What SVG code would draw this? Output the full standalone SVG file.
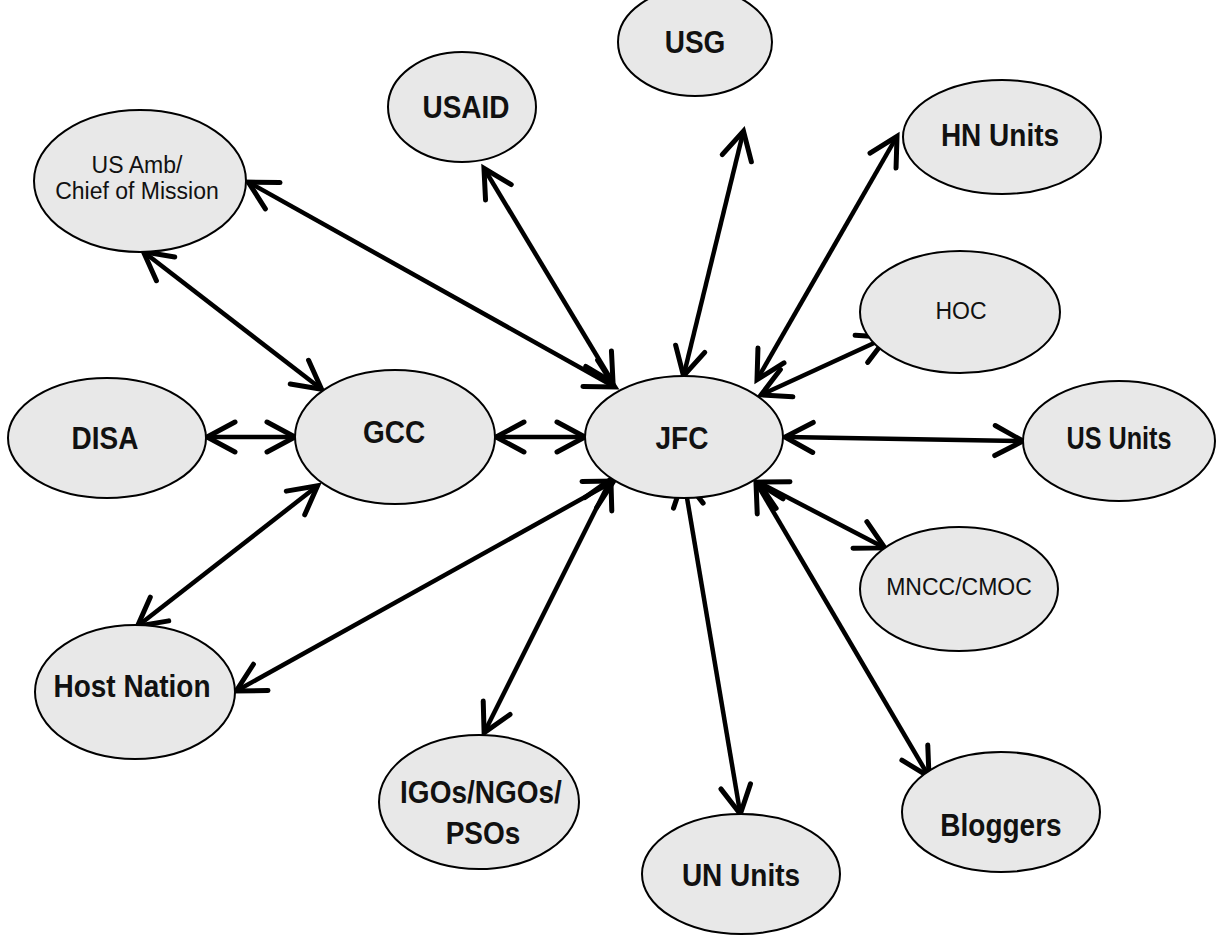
<svg xmlns="http://www.w3.org/2000/svg" width="1219" height="935" viewBox="0 0 1219 935">
<style>
.n ellipse{fill:#e8e8e8;stroke:#000;stroke-width:2}
.n text{font-family:"Liberation Sans",Arial,sans-serif;fill:#111;text-anchor:middle}
.b{font-weight:bold;font-size:28px;transform-box:fill-box;transform-origin:center;transform:scaleY(1.12)}
.r{font-size:23px}
.c line{stroke:#000;stroke-width:4.5;marker-start:url(#ah);marker-end:url(#ah)}
</style>
<defs>
<marker id="ah" markerUnits="userSpaceOnUse" viewBox="-34 -22 40 44" markerWidth="40" markerHeight="44" refX="-2" refY="0" orient="auto-start-reverse">
<path d="M-28,-15 L0,0 L-28,15" fill="none" stroke="#000" stroke-width="5" stroke-linecap="round" stroke-linejoin="miter"/>
</marker>
</defs>
<rect width="1219" height="935" fill="#fff"/>
<g class="c" id="connectors">
<line x1="250" y1="183" x2="613" y2="386"/>
<line x1="145" y1="253" x2="320" y2="388"/>
<line x1="485" y1="170" x2="612" y2="381"/>
<line x1="743" y1="133" x2="684" y2="374"/>
<line x1="896" y1="138" x2="758" y2="378"/>
<line x1="885" y1="338" x2="763" y2="394"/>
<line x1="1021" y1="441" x2="787" y2="437"/>
<line x1="883" y1="547" x2="760" y2="483"/>
<line x1="928" y1="775" x2="757" y2="484"/>
<line x1="740" y1="812" x2="684" y2="480"/>
<line x1="485" y1="731" x2="610" y2="481"/>
<line x1="238" y1="690" x2="612" y2="482"/>
<line x1="139" y1="625" x2="316" y2="487"/>
<line x1="209" y1="437" x2="293" y2="437"/>
<line x1="498" y1="437" x2="583" y2="437"/>
</g>
<g class="n" id="n-usamb"><ellipse cx="140" cy="181" rx="106" ry="71"/><text class="r" x="137" y="173">US Amb/</text><text class="r" x="137" y="199">Chief of Mission</text></g>
<g class="n" id="n-usaid"><ellipse cx="462" cy="107" rx="74" ry="55"/><text class="b" x="466" y="117">USAID</text></g>
<g class="n" id="n-usg"><ellipse cx="695" cy="42" rx="77" ry="54"/><text class="b" x="695" y="52">USG</text></g>
<g class="n" id="n-hnunits"><ellipse cx="1002" cy="137" rx="99" ry="57"/><text class="b" x="1000" y="145">HN Units</text></g>
<g class="n" id="n-hoc"><ellipse cx="960" cy="312" rx="100" ry="61"/><text class="r" x="961" y="319">HOC</text></g>
<g class="n" id="n-usunits"><ellipse cx="1119" cy="441" rx="96" ry="60"/><text class="b" x="1119" y="448" textLength="105" lengthAdjust="spacingAndGlyphs">US Units</text></g>
<g class="n" id="n-mncc"><ellipse cx="959" cy="589" rx="99" ry="62"/><text class="r" x="959" y="595">MNCC/CMOC</text></g>
<g class="n" id="n-bloggers"><ellipse cx="1001" cy="812" rx="99" ry="60"/><text class="b" x="1001" y="835">Bloggers</text></g>
<g class="n" id="n-ununits"><ellipse cx="741" cy="874" rx="99" ry="60"/><text class="b" x="741" y="885">UN Units</text></g>
<g class="n" id="n-igos"><ellipse cx="479" cy="802" rx="100" ry="67"/><text class="b" x="481" y="802">IGOs/NGOs/</text><text class="b" x="483" y="843">PSOs</text></g>
<g class="n" id="n-host"><ellipse cx="135" cy="692" rx="100" ry="67"/><text class="b" x="132" y="696">Host Nation</text></g>
<g class="n" id="n-disa"><ellipse cx="107" cy="438" rx="99" ry="60"/><text class="b" x="105" y="448">DISA</text></g>
<g class="n" id="n-gcc"><ellipse cx="395" cy="437" rx="100" ry="67"/><text class="b" x="394" y="442">GCC</text></g>
<g class="n" id="n-jfc"><ellipse cx="684" cy="437" rx="99" ry="61"/><text class="b" x="682" y="448">JFC</text></g>
</svg>
